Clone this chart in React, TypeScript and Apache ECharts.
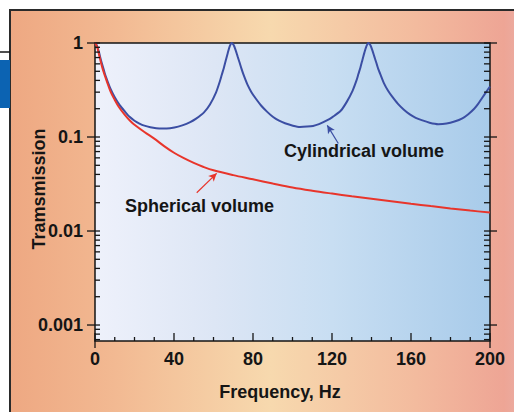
import React, { useEffect, useRef } from "react";
import * as echarts from "echarts";

// ---- data ----
const sphericalFreq = [0, 1, 2, 3, 4, 6, 8, 10, 12, 15, 18, 20, 25, 30, 35, 40, 45, 50, 55, 60, 70, 80, 90, 100, 110, 120, 130, 140, 150, 160, 170, 180, 190, 200];
const sphericalTrans = [1.0, 0.92, 0.76, 0.62, 0.52, 0.39, 0.3, 0.248, 0.21, 0.173, 0.147, 0.135, 0.113, 0.096, 0.08, 0.068, 0.0595, 0.053, 0.048, 0.0442, 0.0393, 0.0355, 0.032, 0.029, 0.0268, 0.025, 0.0234, 0.022, 0.0207, 0.0195, 0.0184, 0.0174, 0.0165, 0.0157];

const cylFreq = [
  0, 1, 2, 3, 4, 5, 6, 8, 10, 12.5, 15, 17.5, 20, 22.5, 25, 28, 31, 34, 36.3,
  40.2, 44.2, 48.2, 51.2, 55.2, 58.2, 61.2, 63.2, 64.2, 65.2, 66.2, 67.2, 68.2, 69.2,
  70.2, 71.2, 72.2, 73.2, 74.2, 75.2, 77.2, 79.2, 81.2, 84.2, 87.2, 90.2, 93.2, 96.2, 100.2, 103.8,
  107.4, 110.4, 113.4, 117.4, 120.4, 124.4, 127.4, 130.4, 132.4, 133.4, 134.4, 135.4, 136.4, 137.4, 138.4,
  139.4, 140.4, 141.4, 142.4, 143.4, 144.4, 146.4, 148.4, 150.4, 153.4, 156.4, 159.4, 162.4, 165.4, 169.4, 173.8,
  178, 182, 186, 189, 192, 194, 196, 198, 200,
];
const cylTrans = [
  1.0, 0.94, 0.8, 0.66, 0.56, 0.47, 0.41, 0.32, 0.265, 0.218, 0.188, 0.164, 0.149, 0.139, 0.132, 0.127, 0.124, 0.123, 0.123,
  0.126, 0.133, 0.144, 0.157, 0.183, 0.222, 0.295, 0.39, 0.46, 0.54, 0.65, 0.78, 0.92, 1.0,
  0.95, 0.84, 0.72, 0.62, 0.53, 0.46, 0.36, 0.3, 0.26, 0.215, 0.185, 0.163, 0.149, 0.14, 0.132, 0.128,
  0.129, 0.131, 0.137, 0.15, 0.164, 0.19, 0.235, 0.31, 0.4, 0.47, 0.55, 0.66, 0.79, 0.92, 1.0,
  0.95, 0.84, 0.72, 0.62, 0.53, 0.47, 0.37, 0.31, 0.27, 0.225, 0.195, 0.174, 0.16, 0.151, 0.142, 0.137,
  0.139, 0.146, 0.158, 0.175, 0.2, 0.225, 0.26, 0.3, 0.345,
];

const xTickLabels = [0, 40, 80, 120, 160, 200];
const yTickLabels = [0.001, 0.01, 0.1, 1];
const xMinorTicks = [10, 20, 30, 50, 60, 70, 90, 100, 110, 130, 140, 150, 170, 180, 190];
const yMinorMultipliers = [2, 3, 4, 5, 6, 7, 8, 9];
const yLowMinor = [0.0007, 0.0008, 0.0009];

const X_MIN = 0;
const X_MAX = 200;
const Y_MIN = 0.000676;
const Y_MAX = 1;

// annotation arrows in data coordinates [tail, head]
const cylArrow = [[123.2, 0.0853], [117.6, 0.133]];
const sphArrow = [[51.5, 0.0255], [61.6, 0.0411]];

const BLUE = "#3b4ea3";
const RED = "#e8352b";
const INK = "#151515";
const FONT = "'Liberation Sans', Arial, Helvetica, sans-serif";

// tick segment kinds: [dx1, dy1, dx2, dy2]
const TICK_SEGS = [
  [-8, 0, 5, 0], // 0 left major
  [0, 0, 5, 0], // 1 left minor
  [-6, 0, 7, 0], // 2 right major
  [-6, 0, 0, 0], // 3 right minor
  [0, -8, 0, 0], // 4 bottom major
  [0, -4, 0, 0], // 5 bottom minor
  [0, 0, 0, 7], // 6 bottom outer extension
];

function buildTicks() {
  const out: number[][] = [];
  const minorY: number[] = [...yLowMinor];
  [0.001, 0.01, 0.1].forEach((d) => yMinorMultipliers.forEach((m) => minorY.push(+(d * m).toPrecision(6))));
  yTickLabels.forEach((v) => {
    out.push([X_MIN, v, 0]);
    out.push([X_MAX, v, 2]);
  });
  minorY.forEach((v) => {
    out.push([X_MIN, v, 1]);
    out.push([X_MAX, v, 3]);
  });
  xTickLabels.forEach((v) => out.push([v, Y_MIN, 4]));
  xMinorTicks.forEach((v) => out.push([v, Y_MIN, 5]));
  out.push([X_MIN, Y_MIN, 6]);
  out.push([X_MAX, Y_MIN, 6]);
  return out;
}

export default function App() {
  const ref = useRef<HTMLDivElement>(null);
  useEffect(() => {
    if (!ref.current) return;
    const chart = echarts.init(ref.current, undefined, { renderer: "svg" });
    const labelStyle = { fontFamily: FONT, fontWeight: "bold" as const, fontSize: 18, color: INK };
    const option: any = {
      animation: false,
      backgroundColor: "#ffffff",
      grid: {
        left: 95,
        right: 24,
        top: 43,
        bottom: 71,
        show: true,
        borderColor: INK,
        borderWidth: 1.5,
        backgroundColor: new echarts.graphic.LinearGradient(0, 0, 1, 0, [
          { offset: 0, color: "#eef1fb" },
          { offset: 0.3, color: "#dde6f5" },
          { offset: 0.6, color: "#c8def2" },
          { offset: 1, color: "#a8cbea" },
        ]),
      },
      xAxis: {
        type: "value",
        min: X_MIN,
        max: X_MAX,
        interval: 40,
        axisLine: { show: false },
        axisTick: { show: false },
        splitLine: { show: false },
        axisLabel: { ...labelStyle, margin: 9 },
      },
      yAxis: {
        type: "log",
        logBase: 10,
        min: Y_MIN,
        max: Y_MAX,
        axisLine: { show: false },
        axisTick: { show: false },
        splitLine: { show: false },
        minorTick: { show: false },
        axisLabel: {
          ...labelStyle,
          margin: 12,
          showMinLabel: false,
          formatter: (v: number) => {
            const l = Math.log10(v);
            if (Math.abs(l - Math.round(l)) > 1e-6) return "";
            return String(Number(v.toPrecision(4)));
          },
        },
      },
      graphic: [
        {
          type: "rect",
          z: -10,
          silent: true,
          shape: { x: 10, y: 10, width: 520, height: 420 },
          style: {
            fill: new echarts.graphic.LinearGradient(0, 0, 1, 0, [
              { offset: 0, color: "#eea882" },
              { offset: 0.2, color: "#f2b992" },
              { offset: 0.5, color: "#f7d9ae" },
              { offset: 0.78, color: "#f3bb9e" },
              { offset: 0.95, color: "#eea595" },
              { offset: 1, color: "#e8b0aa" },
            ]),
            stroke: "#2a2a2a",
            lineWidth: 2,
          },
        },
        {
          type: "line",
          silent: true,
          shape: { x1: 0, y1: 52, x2: 10, y2: 52 },
          style: { stroke: INK, lineWidth: 1.5 },
        },
        {
          type: "rect",
          silent: true,
          shape: { x: 0, y: 60, width: 10, height: 48 },
          style: { fill: "#0c63b2" },
        },
        {
          type: "text",
          silent: true,
          x: 38.5,
          y: 189,
          rotation: Math.PI / 2,
          style: { text: "Tramsmission", font: `bold 18px ${FONT}`, fill: INK, align: "center", verticalAlign: "middle", textAlign: "center", textVerticalAlign: "middle" },
        },
        {
          type: "text",
          silent: true,
          x: 280,
          y: 392,
          style: { text: "Frequency, Hz", font: `bold 18px ${FONT}`, fill: INK, align: "center", verticalAlign: "middle", textAlign: "center", textVerticalAlign: "middle" },
        },
        {
          type: "text",
          silent: true,
          x: 284,
          y: 151,
          z: 10,
          style: { text: "Cylindrical volume", font: `bold 18px ${FONT}`, fill: INK, align: "left", verticalAlign: "middle", textAlign: "left", textVerticalAlign: "middle" },
        },
        {
          type: "text",
          silent: true,
          x: 125,
          y: 205.5,
          z: 10,
          style: { text: "Spherical volume", font: `bold 18px ${FONT}`, fill: INK, align: "left", verticalAlign: "middle", textAlign: "left", textVerticalAlign: "middle" },
        },
      ],
      series: [
        {
          name: "Cylindrical volume",
          type: "line",
          data: cylFreq.map((f, i) => [f, cylTrans[i]]),
          showSymbol: false,
          smooth: 0.25,
          lineStyle: { color: BLUE, width: 2 },
          itemStyle: { color: BLUE },
          markLine: {
            silent: true,
            symbol: ["none", "arrow"],
            symbolSize: [6, 8],
            label: { show: false },
            lineStyle: { color: BLUE, width: 1.2, type: "solid" },
            data: [[{ coord: cylArrow[0] }, { coord: cylArrow[1] }]],
          },
        },
        {
          name: "Spherical volume",
          type: "line",
          data: sphericalFreq.map((f, i) => [f, sphericalTrans[i]]),
          showSymbol: false,
          smooth: 0.35,
          lineStyle: { color: RED, width: 2 },
          itemStyle: { color: RED },
          markLine: {
            silent: true,
            symbol: ["none", "arrow"],
            symbolSize: [6, 8],
            label: { show: false },
            lineStyle: { color: RED, width: 1.2, type: "solid" },
            data: [[{ coord: sphArrow[0] }, { coord: sphArrow[1] }]],
          },
        },
        {
          name: "ticks",
          type: "custom",
          silent: true,
          clip: false,
          z: 5,
          dimensions: ["x", "y", "k"],
          encode: { x: 0, y: 1 },
          data: buildTicks(),
          renderItem: (_params: any, api: any) => {
            const p = api.coord([api.value(0), api.value(1)]);
            const s = TICK_SEGS[api.value(2)];
            return {
              type: "line",
              shape: { x1: p[0] + s[0], y1: p[1] + s[1], x2: p[0] + s[2], y2: p[1] + s[3] },
              style: { stroke: INK, lineWidth: 1.3 },
            };
          },
        },
      ],
    };
    chart.setOption(option);
    return () => chart.dispose();
  }, []);
  return <div ref={ref} style={{ position: "fixed", left: 0, top: 0, width: 514, height: 412 }} />;
}
